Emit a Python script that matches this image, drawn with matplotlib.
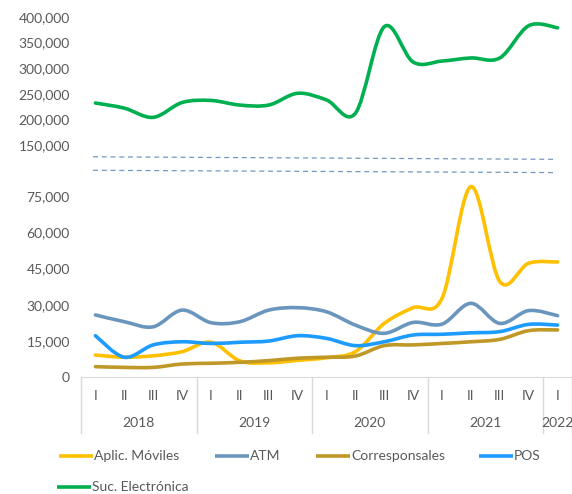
import matplotlib
matplotlib.use("Agg")
import matplotlib.pyplot as plt
from matplotlib.path import Path
from matplotlib.patches import PathPatch
from matplotlib.lines import Line2D
import matplotlib.transforms as mtrans
import numpy as np

plt.rcParams["font.family"] = ["Lato", "DejaVu Sans"]

# ---- data ----
quarters = ["I", "II", "III", "IV"] * 4 + ["I"]
years = ["2018", "2019", "2020", "2021", "2022"]
year_sizes = [4, 4, 4, 4, 1]

aplic_moviles = [9200, 8300, 8900, 10600, 14500, 6800, 6000, 7000, 8100, 10600,
                 22300, 28800, 32700, 78900, 39600, 47200, 47700]
atm = [25800, 23000, 20900, 27800, 22600, 23000, 27800, 28800, 27100, 21600,
       18200, 22700, 22000, 30600, 22300, 27600, 25500]
corresponsales = [4400, 4100, 4100, 5500, 5800, 6200, 6900, 7900, 8300, 8800,
                  13100, 13400, 14000, 14700, 15700, 19300, 19600]
pos = [17200, 8300, 13400, 14700, 14000, 14500, 15000, 17200, 16100, 13100,
       14700, 17500, 17800, 18400, 18900, 21900, 21600]
suc_electronica = [232000, 222000, 204000, 233000, 237000, 228000, 228000, 251000,
                   238000, 212000, 381000, 312000, 314000, 320000, 320000, 383000, 379000]

series_low = [
    ("Aplic. Móviles", aplic_moviles, "#FFC000"),
    ("ATM", atm, "#6A96BD"),
    ("Corresponsales", corresponsales, "#C09828"),
    ("POS", pos, "#1E9BFF"),
]
series_high = [("Suc. Electrónica", suc_electronica, "#00B050")]

top_ticks = [150000, 200000, 250000, 300000, 350000, 400000]
low_ticks = [0, 15000, 30000, 45000, 60000, 75000]

W, H = 572, 494
TEXT = "#595959"
GRID = "#D9D9D9"
LW = 2.6


def px_rect(x0, y0, x1, y1):
    return [x0 / W, 1 - y1 / H, (x1 - x0) / W, (y1 - y0) / H]


def smooth_path(xs, ys):
    # bezier segments like Excel's smoothed line
    pts = np.column_stack([xs, ys]).astype(float)
    n = len(pts)
    verts = [pts[0]]
    codes = [Path.MOVETO]
    for i in range(n - 1):
        p0 = pts[max(i - 1, 0)]
        p1 = pts[i]
        p2 = pts[i + 1]
        p3 = pts[min(i + 2, n - 1)]
        c1 = p1 + (p2 - p0) / 6.0
        c2 = p2 - (p3 - p1) / 6.0
        verts += [c1, c2, p2]
        codes += [Path.CURVE4] * 3
    return Path(verts, codes)


def fmt(v):
    return f"{v:,.0f}"


fig = plt.figure(figsize=(W / 100, H / 100), dpi=100)

ax_top = fig.add_axes(px_rect(81, 17, 572, 145))
ax_low = fig.add_axes(px_rect(81, 179.1, 572, 377.3))

x = np.arange(len(quarters))

for ax in (ax_top, ax_low):
    ax.set_xlim(-0.5, len(quarters) - 0.5)
    for s in ax.spines.values():
        s.set_visible(False)
    ax.tick_params(axis="y", length=0, pad=8, labelsize=10, labelcolor=TEXT)

ax_top.set_ylim(150000, 400000)
ax_top.set_yticks(top_ticks)
ax_top.set_yticklabels([fmt(v) for v in top_ticks])
ax_top.set_xticks([])

ax_low.set_ylim(0, 82000)
ax_low.set_yticks(low_ticks)
ax_low.set_yticklabels([fmt(v) for v in low_ticks])

for name, vals, col in series_high:
    ax_top.add_patch(PathPatch(smooth_path(x, vals), fill=False, edgecolor=col,
                               lw=LW, capstyle="round", joinstyle="round"))
for name, vals, col in series_low:
    ax_low.add_patch(PathPatch(smooth_path(x, vals), fill=False, edgecolor=col,
                               lw=LW, capstyle="round", joinstyle="round",
                               clip_on=False))

# category axis
ax_low.spines["bottom"].set_visible(True)
ax_low.spines["bottom"].set_color(GRID)
ax_low.set_xticks(x)
ax_low.set_xticklabels(quarters)
ax_low.tick_params(axis="x", length=0, pad=9, labelsize=10, labelcolor=TEXT)

low_h = 377.3 - 179.1


def fy(py):
    # pixel row -> axes fraction of the lower panel
    return (377.3 - py) / low_h


trans = mtrans.blended_transform_factory(ax_low.transData, ax_low.transAxes)
start = -0.5
bounds = [start]
for name, size in zip(years, year_sizes):
    ax_low.text(start + size / 2, fy(423), name, transform=trans, ha="center",
                va="center", fontsize=10, color=TEXT)
    start += size
    bounds.append(start)
for b in bounds:
    ax_low.plot([b, b], [0, fy(433)], transform=trans, color=GRID, lw=1,
                clip_on=False)

# axis break markers
for y0, y1 in [(156.8, 159.3), (170.3, 172.6)]:
    fig.add_artist(Line2D([93 / W, 553 / W], [1 - y0 / H, 1 - y1 / H],
                          color="#5B87B5", lw=0.9, ls=(0, (4, 3)), alpha=0.85))

# legend
legend_items = [
    ("Aplic. Móviles", "#FFC000", 59, 456),
    ("ATM", "#6A96BD", 215, 456),
    ("Corresponsales", "#C09828", 316, 456),
    ("POS", "#1E9BFF", 479, 456),
    ("Suc. Electrónica", "#00B050", 57, 487),
]
for label, col, lx, ly in legend_items:
    fig.add_artist(Line2D([lx / W, (lx + 34) / W], [1 - ly / H, 1 - ly / H],
                          color=col, lw=LW, solid_capstyle="butt"))
    fig.text((lx + 35) / W, 1 - ly / H, label, ha="left", va="center",
             fontsize=10, color=TEXT)

fig.savefig("out.png", dpi=100)
